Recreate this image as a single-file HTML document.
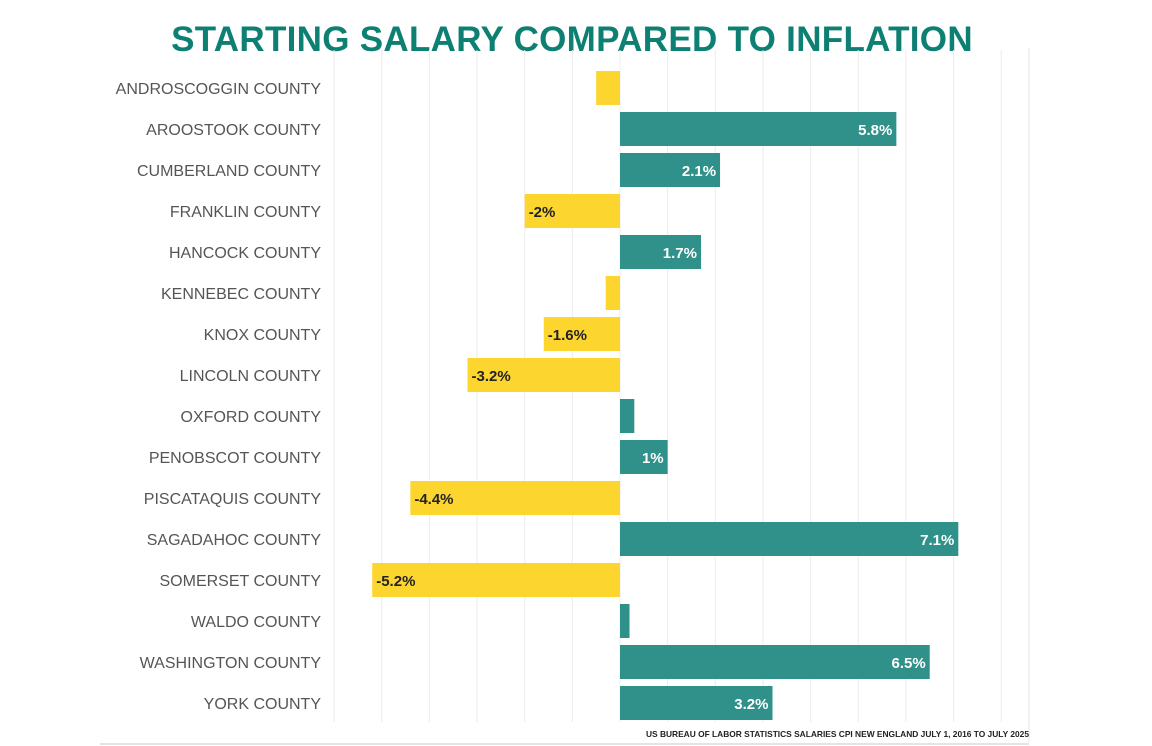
<!DOCTYPE html>
<html><head><meta charset="utf-8"><style>
body{margin:0;background:#fff;width:1152px;height:746px;overflow:hidden;font-family:"Liberation Sans",sans-serif}
#title{position:absolute;left:0;width:1144px;top:20px;text-align:center;font-size:35px;font-weight:bold;color:#0e8073;letter-spacing:0.3px}
</style></head><body>
<div id="title">STARTING SALARY COMPARED TO INFLATION</div>
<svg id="chart" width="1152" height="746" style="position:absolute;left:0;top:0"></svg>
<script>
const categories=["ANDROSCOGGIN COUNTY","AROOSTOOK COUNTY","CUMBERLAND COUNTY","FRANKLIN COUNTY","HANCOCK COUNTY","KENNEBEC COUNTY","KNOX COUNTY","LINCOLN COUNTY","OXFORD COUNTY","PENOBSCOT COUNTY","PISCATAQUIS COUNTY","SAGADAHOC COUNTY","SOMERSET COUNTY","WALDO COUNTY","WASHINGTON COUNTY","YORK COUNTY"];
const values=[-0.5,5.8,2.1,-2,1.7,-0.3,-1.6,-3.2,0.3,1,-4.4,7.1,-5.2,0.2,6.5,3.2];
const labels=["","5.8%","2.1%","-2%","1.7%","","-1.6%","-3.2%","","1%","-4.4%","7.1%","-5.2%","","6.5%","3.2%"];
const gridTicks=[-6,-5,-4,-3,-2,-1,0,1,2,3,4,5,6,7,8];
const NS="http://www.w3.org/2000/svg",svg=document.getElementById('chart');
const x=v=>620+v*47.65, y=i=>88+i*41;
function mk(t,a,p){const e=document.createElementNS(NS,t);for(const k in a)e.setAttribute(k,a[k]);(p||svg).appendChild(e);return e;}
gridTicks.forEach(t=>{const l=mk('line',{x1:x(t),x2:x(t),y1:50,y2:722,stroke:'#ececec','stroke-width':1});

});
const bl=mk('line',{x1:1029,x2:1029,y1:48,y2:742,stroke:'#e4e4e4'});


const bb=mk('line',{x1:100,x2:1029,y1:744,y2:744,stroke:'#e4e4e4','stroke-width':2});


categories.forEach((c,i)=>{
 const t=mk('text',{x:321,y:y(i)+6,'text-anchor':'end','font-size':16,fill:'#555'});t.textContent=c;
 
 
 const v=values[i],pos=v>=0;
 const x0=pos?x(0):x(v),w=Math.abs(x(v)-x(0));
 const r=mk('rect',{x:x0,y:y(i)-17,width:w,height:34,fill:pos?'#2f918a':'#fdd52f'});
 
 
 if(labels[i]){
  const lt=mk('text',{x:pos?x(v)-4:x(v)+4,y:y(i)+6,'text-anchor':pos?'end':'start','font-size':15,'font-weight':'bold',fill:pos?'#fff':'#222'});
  lt.textContent=labels[i];
  
  
 }
});
const src=mk('text',{x:1029,y:737,'text-anchor':'end','font-size':8.4,fill:'#222','font-weight':'bold'});
src.textContent="US BUREAU OF LABOR STATISTICS SALARIES CPI NEW ENGLAND JULY 1, 2016 TO JULY 2025";


</script>
</body></html>
